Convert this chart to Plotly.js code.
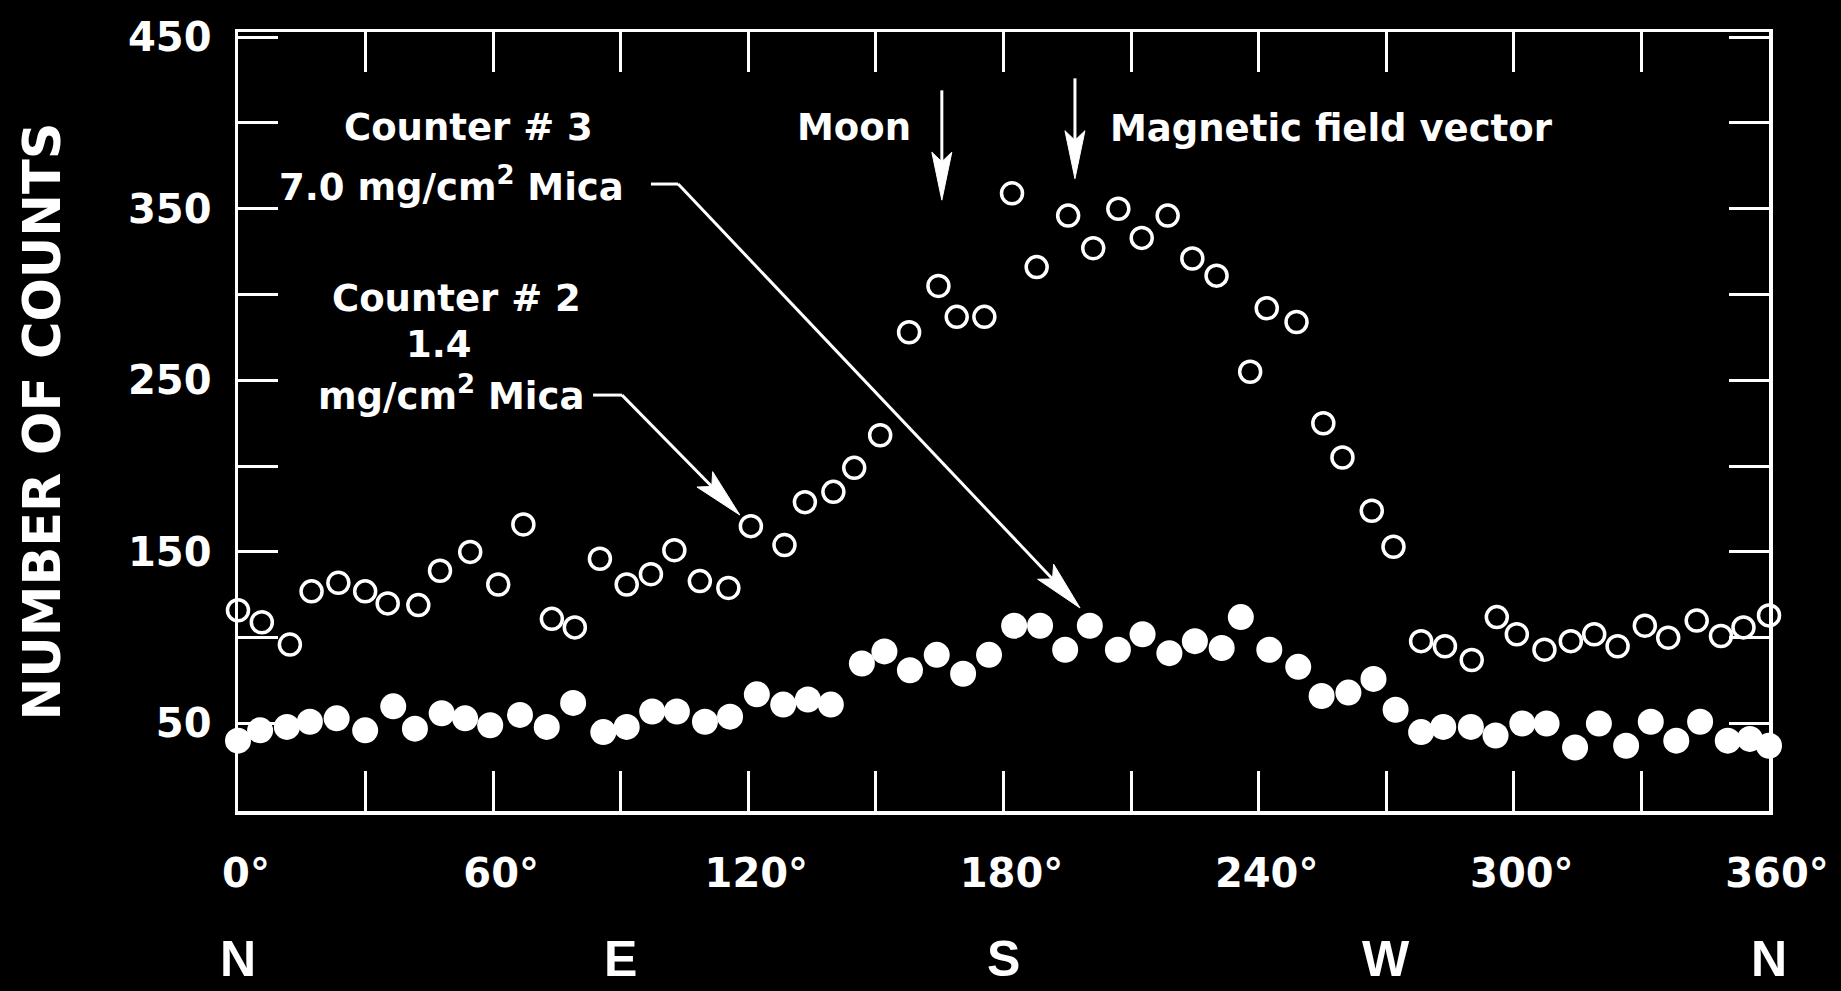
<!DOCTYPE html>
<html>
<head>
<meta charset="utf-8">
<script src="https://cdn.plot.ly/plotly-3.0.1.min.js"></script>
<style>
  html, body { margin: 0; padding: 0; background: #000; }
  #chart { width: 1841px; height: 991px; }
</style>
</head>
<body>
<div id="chart"></div>
<script>
// ---------------- DATA ----------------
// Counter #3, 7.0 mg/cm^2 mica window (open circles)
const counter3Angle = [0, 5.6, 12.2, 17.3, 23.6, 29.9, 35.2, 42.4, 47.5, 54.6,
  61.2, 67.1, 73.8, 79.2, 85.1, 91.4, 97.1, 102.6, 108.6, 115.3,
  120.6, 128.5, 133.3, 140.0, 144.9, 151.0, 157.8, 164.7, 169.0, 175.5,
  182.0, 187.8, 195.2, 201.1, 207.0, 212.5, 218.6, 224.4, 230.1, 238.0,
  241.9, 248.9, 255.2, 259.7, 266.6, 271.7, 278.2, 283.8, 290.1, 296.0,
  300.7, 307.2, 313.4, 318.9, 324.4, 330.8, 336.3, 343.0, 348.7, 354.0, 360];
const counter3Counts = [116, 109, 96, 127, 132, 127, 120, 119, 139, 150,
  131, 166, 111, 106, 146, 131, 137, 151, 133, 129,
  165, 154, 179, 185, 199, 218, 278, 305, 287, 287,
  359, 316, 346, 327, 350, 333, 346, 321, 311, 255,
  292, 284, 225, 205, 174, 153, 98, 95, 87, 112,
  102, 93, 98, 102, 95, 107, 100, 110, 101, 106, 113];

// Counter #2, 1.4 mg/cm^2 mica window (filled circles)
const counter2Angle = [0, 5.2, 11.5, 16.9, 23.2, 29.9, 36.5, 41.6, 47.9, 53.4,
  59.3, 66.3, 72.6, 78.8, 85.9, 91.4, 97.4, 103.2, 109.8, 115.7,
  122.0, 128.2, 134.0, 139.4, 146.7, 152.0, 158.0, 164.3, 170.5, 176.6,
  182.5, 188.6, 194.5, 200.3, 206.9, 212.7, 219.0, 225.0, 231.3, 235.8,
  242.5, 249.3, 254.8, 261.1, 267.0, 272.2, 278.2, 283.4, 289.9, 295.7,
  302.0, 307.7, 314.4, 320.0, 326.4, 332.2, 338.2, 343.8, 350.3, 355.5, 360];
const counter2Counts = [40, 46, 48, 51, 53, 46, 60, 47, 56, 53,
  49, 55, 48, 62, 45, 48, 57, 57, 51, 54,
  67, 61, 64, 61, 85, 92, 81, 90, 79, 90,
  107, 107, 93, 107, 93, 102, 91, 98, 94, 112,
  93, 83, 66, 68, 76, 58, 45, 48, 48, 43,
  50, 50, 36, 50, 37, 51, 40, 51, 40, 41, 37];

// Axis ticks: labelled (major) and unlabelled (minor)
const xTickVals = [0, 60, 120, 180, 240, 300, 360];
const xTickText = ['0°', '60°', '120°', '180°', '240°', '300°', '360°'];
const xMinorVals = [30, 90, 150, 210, 270, 330];
const yTickVals = [50, 150, 250, 350, 450];
const yTickText = ['50', '150', '250', '350', '450'];
const yMinorVals = [100, 200, 300, 400];

// Compass directions under the azimuth axis
const compassAngle = [0, 90, 180, 270, 360];
const compassText = ['N', 'E', 'S', 'W', 'N'];

// ---------------- LAYOUT ----------------
const W = 1841, H = 991;
const M = { l: 238, r: 72, t: 32, b: 180 };
const X_RANGE = [0, 360], Y_RANGE = [-1, 453];
const pxX = (W - M.l - M.r) / (X_RANGE[1] - X_RANGE[0]);
const pxY = (H - M.t - M.b) / (Y_RANGE[1] - Y_RANGE[0]);

const WHITE = '#ffffff';
const FONT = 'DejaVu Sans, Liberation Sans, sans-serif';

// arrow made of a shaft line and a slender barbed head, in data coordinates
function arrowShapes(tail, tip, headLen, headHalf) {
  const dx = (tip[0] - tail[0]) * pxX, dy = -(tip[1] - tail[1]) * pxY;
  const L = Math.hypot(dx, dy), ux = dx / L, uy = dy / L, nx = -uy, ny = ux;
  const toData = (px, py) => [tip[0] + px / pxX, tip[1] - py / pxY];
  const base = toData(-ux * headLen * 0.8, -uy * headLen * 0.8);
  const c1 = toData(-ux * headLen + nx * headHalf, -uy * headLen + ny * headHalf);
  const c2 = toData(-ux * headLen - nx * headHalf, -uy * headLen - ny * headHalf);
  return [
    { type: 'line', xref: 'x', yref: 'y', x0: tail[0], y0: tail[1], x1: base[0], y1: base[1],
      line: { color: WHITE, width: 3 } },
    { type: 'path', xref: 'x', yref: 'y',
      path: `M${tip[0]},${tip[1]} L${c1[0]},${c1[1]} L${base[0]},${base[1]} L${c2[0]},${c2[1]} Z`,
      fillcolor: WHITE, line: { color: WHITE, width: 1 } }
  ];
}
function segment(a, b) {
  return { type: 'line', xref: 'x', yref: 'y', x0: a[0], y0: a[1], x1: b[0], y1: b[1],
    line: { color: WHITE, width: 3 } };
}

const shapes = [].concat(
  arrowShapes([165.5, 419], [165.5, 355], 48, 10),          // Moon
  arrowShapes([196.8, 426], [196.8, 367.5], 48, 10),        // Magnetic field vector
  [segment([97.1, 364.4], [103.5, 364.4])],
  arrowShapes([103.5, 364.4], [198.0, 117.3], 50, 11),      // Counter #3 leader
  [segment([83.5, 241.4], [90.3, 241.4])],
  arrowShapes([90.3, 241.4], [118.0, 171.5], 50, 11)        // Counter #2 leader
);

const annFont = { family: FONT, size: 37, color: WHITE, weight: 'bold' };
const annotations = [
  { x: 54.3, y: 397.5, text: 'Counter # 3' },
  { x: 50.3, y: 364.4, text: '7.0 mg/cm<sup>2</sup> Mica' },
  { x: 51.3, y: 297.5, text: 'Counter # 2' },
  { x: 47.3, y: 270.6, text: '1.4' },
  { x: 50.1, y: 242.6, text: 'mg/cm<sup>2</sup> Mica' },
  { x: 158.7, y: 397.5, text: 'Moon', xanchor: 'right' },
  { x: 204.6, y: 397.0, text: 'Magnetic field vector', xanchor: 'left' }
].map(a => Object.assign({ xref: 'x', yref: 'y', showarrow: false, font: annFont,
  xanchor: 'center', yanchor: 'middle' }, a));

compassAngle.forEach((ang, i) => {
  annotations.push({ xref: 'x', yref: 'paper', x: ang, y: -0.2285, text: compassText[i],
    showarrow: false, xanchor: 'center', yanchor: 'bottom',
    font: { family: 'Liberation Sans, DejaVu Sans, sans-serif', size: 50, color: WHITE, weight: 'bold' } });
});

const traces = [
  { type: 'scatter', mode: 'markers', name: 'Counter #2 (1.4 mg/cm² Mica)',
    x: counter2Angle, y: counter2Counts, cliponaxis: false,
    marker: { symbol: 'circle', size: 26, color: WHITE, line: { width: 0 } } },
  { type: 'scatter', mode: 'markers', name: 'Counter #3 (7.0 mg/cm² Mica)',
    x: counter3Angle, y: counter3Counts, cliponaxis: false,
    marker: { symbol: 'circle-open', size: 21, color: WHITE, line: { width: 3.5, color: WHITE } } }
];

function axisCommon(minorVals) {
  return {
    showgrid: false, zeroline: false, showline: true, linecolor: WHITE, linewidth: 3.5,
    mirror: 'ticks', ticks: 'inside', ticklen: 40, tickwidth: 3, tickcolor: WHITE,
    minor: { tickmode: 'array', tickvals: minorVals, ticks: 'inside', ticklen: 40,
      tickwidth: 3, tickcolor: WHITE, showgrid: false },
    tickfont: { family: FONT, size: 40, color: WHITE, weight: 'bold' }
  };
}

const layout = {
  width: W, height: H, margin: M,
  paper_bgcolor: '#000000', plot_bgcolor: '#000000',
  showlegend: false,
  xaxis: Object.assign(axisCommon(xMinorVals), {
    range: X_RANGE, tickmode: 'array', tickvals: xTickVals, ticktext: xTickText,
    ticklabelstandoff: 24, ticklabelshift: 8
  }),
  yaxis: Object.assign(axisCommon(yMinorVals), {
    range: Y_RANGE, tickmode: 'array', tickvals: yTickVals, ticktext: yTickText,
    ticklabelstandoff: 15,
    title: { text: 'NUMBER OF COUNTS', standoff: 52,
      font: { family: FONT, size: 51, color: WHITE, weight: 'bold' } }
  }),
  shapes: shapes,
  annotations: annotations
};

Plotly.newPlot('chart', traces, layout, { displayModeBar: false, staticPlot: true });
</script>
</body>
</html>
